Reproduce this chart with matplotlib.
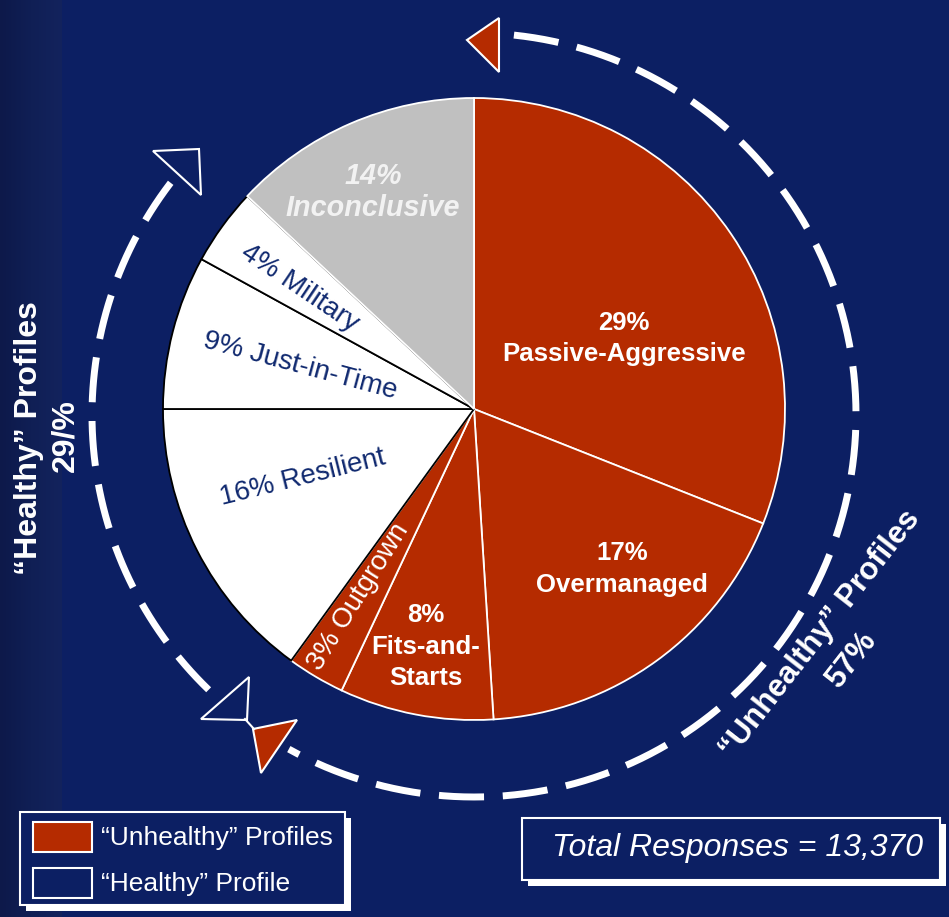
import numpy as np
import matplotlib.pyplot as plt
from matplotlib.patches import Rectangle, Polygon
from matplotlib.colors import LinearSegmentedColormap

# canvas size in pixels (axes data units = pixels, y measured from the top)
W, H = 949, 917

# chart data
profiles = ['Passive-Aggressive', 'Overmanaged', 'Fits-and-Starts', 'Outgrown',
            'Resilient', 'Just-in-Time', 'Military', 'Inconclusive']
pct_printed = [29, 17, 8, 3, 16, 9, 4, 14]
# wedge sizes as drawn in the original (they don't follow the printed numbers exactly)
wedge_drawn = [31, 18, 8, 3, 15, 8, 4, 13]
group = ['unhealthy', 'unhealthy', 'unhealthy', 'unhealthy',
         'healthy', 'healthy', 'healthy', 'none']
unhealthy_share = '57%'
healthy_share = '29/%'
total_responses = '13,370'

NAVY = '#0c1f63'
RED = '#b52b00'
GRAY = '#c0c0c0'
TXT_NAVY = '#10296f'
fill = {'unhealthy': RED, 'healthy': 'white', 'none': GRAY}
edge = {'unhealthy': 'white', 'healthy': 'black', 'none': 'white'}

plt.rcParams['font.family'] = ['Liberation Sans', 'DejaVu Sans']


def Y(y):
    return H - y


fig = plt.figure(figsize=(W / 100, H / 100), dpi=100, facecolor=NAVY)
ax = fig.add_axes([0, 0, 1, 1])
ax.set_facecolor(NAVY)

# darker band on the left edge
band = LinearSegmentedColormap.from_list('band', ['#0d194a', '#101f55', '#13235d'])
grad = np.linspace(0, 1, 64).reshape(1, -1)
ax.imshow(grad, cmap=band, extent=(0, 62, 0, H), aspect='auto', zorder=0)

# pie
cx, cy, R = 474, 409, 311
wedges, _ = ax.pie(wedge_drawn, colors=[fill[g] for g in group], startangle=90,
                   counterclock=False, center=(cx, Y(cy)), radius=R,
                   wedgeprops=dict(linewidth=1.3), frame=True)
for w, g in zip(wedges, group):
    w.set_edgecolor(edge[g])
    w.set_zorder(3)


def pct(i):
    return f'{pct_printed[i]}%'


# slice labels: (text, x, y, rotation, size, weight, style, color)
slice_text = [
    (pct(7), 373, 176, 0, 20.7, 'bold', 'italic', '#f2f2f2'),
    (profiles[7], 373, 208, 0, 20.7, 'bold', 'italic', '#f2f2f2'),
    (pct(0), 624, 323, 0, 18.5, 'bold', 'normal', 'white'),
    (profiles[0], 624, 354, 0, 18.5, 'bold', 'normal', 'white'),
    (pct(1), 622, 553, 0, 18.5, 'bold', 'normal', 'white'),
    (profiles[1], 622, 585, 0, 18.5, 'bold', 'normal', 'white'),
    (pct(2), 426, 615, 0, 18.5, 'bold', 'normal', 'white'),
    ('Fits-and-', 426, 647, 0, 18.5, 'bold', 'normal', 'white'),
    ('Starts', 426, 678, 0, 18.5, 'bold', 'normal', 'white'),
    (f'{pct(3)} {profiles[3]}', 358, 597, 58, 20, 'normal', 'normal', 'white'),
    (f'{pct(4)} {profiles[4]}', 303, 478, 14, 20, 'normal', 'normal', TXT_NAVY),
    (f'{pct(5)} {profiles[5]}', 300, 366, -15, 20, 'normal', 'normal', TXT_NAVY),
    (f'{pct(6)} {profiles[6]}', 300, 288, -34, 20, 'normal', 'normal', TXT_NAVY),
]
for s, x, y, rot, size, wt, st, c in slice_text:
    ax.text(x, Y(y), s, ha='center', va='center', rotation=rot, fontsize=size,
            fontweight=wt, fontstyle=st, color=c, rotation_mode='anchor', zorder=5)

# dashed arcs around the pie
ocx, ocy, OR = 474, 415, 382
dash = dict(color='white', lw=5, dashes=(6.5, 2.7), solid_capstyle='butt',
            dash_capstyle='butt', zorder=2)
t = np.radians(np.linspace(84, -119, 400))
ax.plot(ocx + OR * np.cos(t), Y(ocy) + OR * np.sin(t), **dash)
t = np.radians(np.linspace(226, 141, 200))
ax.plot(ocx + OR * np.cos(t), Y(ocy) + OR * np.sin(t), **dash)

# arrow heads
heads = [
    ([(467, 40), (499, 18), (499, 72)], RED),
    ([(153, 151), (199, 149), (201, 195)], NAVY),
    ([(201, 719), (249, 677), (247, 720)], NAVY),
    ([(253, 729), (297, 720), (261, 773)], RED),
]
for pts, fc in heads:
    ax.add_patch(Polygon([(x, Y(y)) for x, y in pts], closed=True, fc=fc,
                         ec='white', lw=1.5, zorder=4))
ax.plot([245, 254], [Y(719), Y(729)], color='white', lw=1.5, zorder=4)

# group captions
ax.text(820, Y(634), '\u201cUnhealthy\u201d Profiles', rotation=52, ha='center', va='center',
        rotation_mode='anchor', fontsize=22.5, fontweight='bold', color='white')
ax.text(852, Y(659), unhealthy_share, rotation=52, ha='center', va='center',
        rotation_mode='anchor', fontsize=22.5, fontweight='bold', color='white')
ax.text(29, Y(438), '\u201cHealthy\u201d Profiles', rotation=90, ha='center', va='center',
        rotation_mode='anchor', fontsize=23, fontweight='bold', color='white')
ax.text(65, Y(436), healthy_share, rotation=90, ha='center', va='center',
        rotation_mode='anchor', fontsize=23, fontweight='bold', color='white')


def box(x0, y0, x1, y1):
    ax.add_patch(Rectangle((x0 + 6, Y(y1) - 6), x1 - x0, y1 - y0, fc='white', ec='none', zorder=6))
    ax.add_patch(Rectangle((x0, Y(y1)), x1 - x0, y1 - y0, fc=NAVY, ec='white', lw=1.5, zorder=7))


# legend
box(20, 812, 345, 905)
ax.add_patch(Rectangle((33, Y(852)), 59, 30, fc=RED, ec='white', lw=1.5, zorder=8))
ax.add_patch(Rectangle((33, Y(898)), 59, 30, fc=NAVY, ec='white', lw=1.5, zorder=8))
ax.text(101, Y(838), '\u201cUnhealthy\u201d Profiles', ha='left', va='center', fontsize=19,
        color='white', zorder=9)
ax.text(101, Y(884), '\u201cHealthy\u201d Profile', ha='left', va='center', fontsize=19,
        color='white', zorder=9)

# total responses box
box(522, 818, 940, 880)
ax.text(738, Y(848), f'Total Responses = {total_responses}', ha='center', va='center',
        fontsize=23, fontstyle='italic', color='white', zorder=9)

ax.set_xlim(0, W)
ax.set_ylim(0, H)
ax.set_aspect('equal')
ax.axis('off')

fig.savefig('out.png', dpi=100, facecolor=NAVY)
